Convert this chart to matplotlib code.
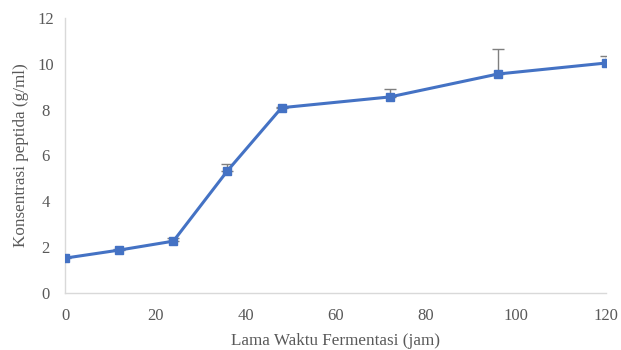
import matplotlib.pyplot as plt
import numpy as np

plt.rcParams['font.family'] = ['Liberation Serif', 'DejaVu Serif']

waktu = [0, 12, 24, 36, 48, 72, 96, 120]
konsentrasi = [1.52, 1.87, 2.26, 5.33, 8.08, 8.55, 9.55, 10.03]
galat_atas = [0.05, 0.05, 0.15, 0.28, 0.05, 0.35, 1.1, 0.32]

fig = plt.figure(figsize=(6.21, 3.5), dpi=100)
ax = fig.add_axes([0.105, 0.163, 0.871, 0.786])

biru = '#4472C4'
ax.errorbar(waktu, konsentrasi, yerr=[np.zeros(len(galat_atas)), galat_atas],
            fmt='none', ecolor='#7f7f7f', elinewidth=1, capsize=4, capthick=1, zorder=2)
ax.plot(waktu, konsentrasi, color=biru, linewidth=2.2, marker='s', markersize=6,
        markerfacecolor=biru, markeredgecolor=biru, zorder=3)

ax.set_xlim(0, 120)
ax.set_ylim(0, 12)
ax.set_xticks(range(0, 121, 20))
ax.set_yticks(range(0, 13, 2))
ax.tick_params(length=0, labelsize=12, colors='#595959')
ax.tick_params(axis='x', pad=11)
ax.tick_params(axis='y', pad=14)
for lbl in ax.get_yticklabels():
    lbl.set_horizontalalignment('center')

for s in ['top', 'right']:
    ax.spines[s].set_visible(False)
for s in ['left', 'bottom']:
    ax.spines[s].set_color('#d9d9d9')
    ax.spines[s].set_linewidth(1)

ax.set_xlabel('Lama Waktu Fermentasi (jam)', fontsize=12.3, color='#595959', labelpad=6)
ax.set_ylabel('Konsentrasi peptida (g/ml)', fontsize=12.3, color='#595959', labelpad=6)

fig.savefig('out.png', dpi=100)
